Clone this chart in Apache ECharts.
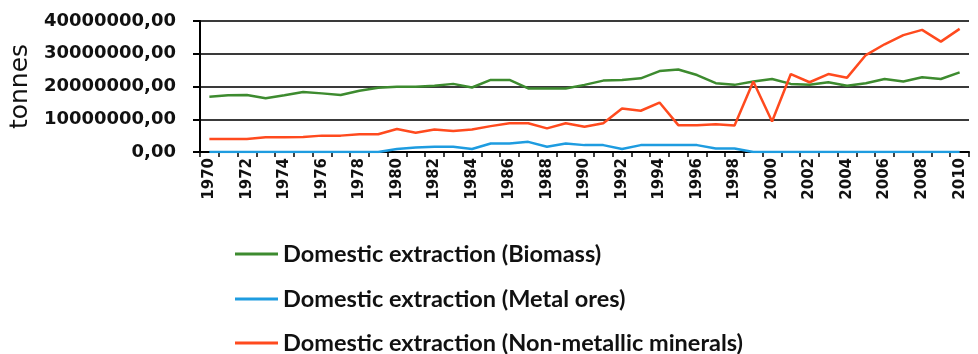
<!DOCTYPE html>
<html>
<head>
<meta charset="utf-8">
<script src="https://cdn.jsdelivr.net/npm/echarts@6/dist/echarts.min.js"></script>
<style>
html,body{margin:0;padding:0;background:#fff;}
#c{width:978px;height:354px;}
</style>
</head>
<body>
<div id="c"></div>
<script>
const years = ['1970','1971','1972','1973','1974','1975','1976','1977','1978','1979',
  '1980','1981','1982','1983','1984','1985','1986','1987','1988','1989',
  '1990','1991','1992','1993','1994','1995','1996','1997','1998','1999',
  '2000','2001','2002','2003','2004','2005','2006','2007','2008','2009','2010'];

const biomass = [16900000,17300000,17400000,16400000,17300000,18300000,17900000,17400000,18700000,19600000,
  19900000,19900000,20200000,20800000,19700000,22000000,22000000,19400000,19400000,19400000,
  20500000,21800000,22000000,22500000,24700000,25200000,23500000,21000000,20500000,21500000,
  22300000,20800000,20500000,21300000,20200000,21000000,22300000,21500000,22800000,22300000,24300000];

const metalOres = [0,0,0,0,0,0,0,0,0,0,
  900000,1400000,1600000,1600000,900000,2600000,2600000,3100000,1600000,2600000,
  2100000,2100000,900000,2100000,2100000,2100000,2100000,1100000,1100000,0,
  0,0,0,0,0,0,0,0,0,0,0];

const nonMetallic = [4000000,4000000,4000000,4500000,4500000,4600000,5000000,5000000,5400000,5400000,
  7000000,5900000,6900000,6400000,6900000,7900000,8800000,8800000,7200000,8800000,
  7700000,8800000,13300000,12600000,15100000,8200000,8200000,8500000,8100000,21500000,
  9300000,23800000,21300000,23800000,22700000,29600000,32900000,35700000,37300000,33700000,37600000];

const seriesNames = ['Domestic extraction (Biomass)','Domestic extraction (Metal ores)','Domestic extraction (Non-metallic minerals)'];
const yTitle = 'tonnes';

const colors = ['#3d8b2f','#1e9ce0','#ff4a1e'];

const chart = echarts.init(document.getElementById('c'), null, {renderer:'canvas'});
const mk = (name, data, color) => ({
  name, type:'line', data, symbol:'none', smooth:false,
  lineStyle:{color, width:2.5}, itemStyle:{color}
});
const legendTops = [242, 287, 331];
const legends = seriesNames.map((n, i) => ({
  orient:'vertical', left:235, top:legendTops[i], padding:0,
  icon:'rect', itemWidth:43, itemHeight:3, itemGap:5,
  textStyle:{fontFamily:'Lato', fontWeight:'bold', fontSize:23.5, color:'#111', lineHeight:20},
  data:[n]
}));
chart.setOption({
  animation:false,
  backgroundColor:'#fff',
  color: colors,
  grid:{left:200, right:9, top:21, bottom:202, containLabel:false},
  legend: legends,
  xAxis:{
    type:'category', data:years, boundaryGap:true,
    axisLine:{lineStyle:{color:'#000', width:2}},
    axisTick:{show:true, interval:0, length:5, lineStyle:{color:'#000', width:1.5}},
    axisLabel:{interval:1, rotate:90, margin:6, fontFamily:'DejaVu Sans', fontWeight:'bold', fontSize:15, color:'#111'},
    splitLine:{show:false}
  },
  yAxis:{
    type:'value', min:0, max:40000000, interval:10000000,
    name:yTitle, nameLocation:'middle', nameGap:163, nameRotate:90,
    nameTextStyle:{fontFamily:'DejaVu Sans', fontSize:25, color:'#111'},
    axisLine:{show:true, lineStyle:{color:'#000', width:2}},
    axisTick:{show:true, length:7, lineStyle:{color:'#000', width:2}},
    axisLabel:{margin:24, fontFamily:'DejaVu Sans', fontWeight:'bold', fontSize:18, color:'#111',
      formatter: v => v.toFixed(2).replace('.', ',')},
    splitLine:{show:true, lineStyle:{color:'#3a3a3a', width:2}}
  },
  series:[
    mk(seriesNames[0], biomass, colors[0]),
    mk(seriesNames[1], metalOres, colors[1]),
    mk(seriesNames[2], nonMetallic, colors[2])
  ]
});
</script>
</body>
</html>
